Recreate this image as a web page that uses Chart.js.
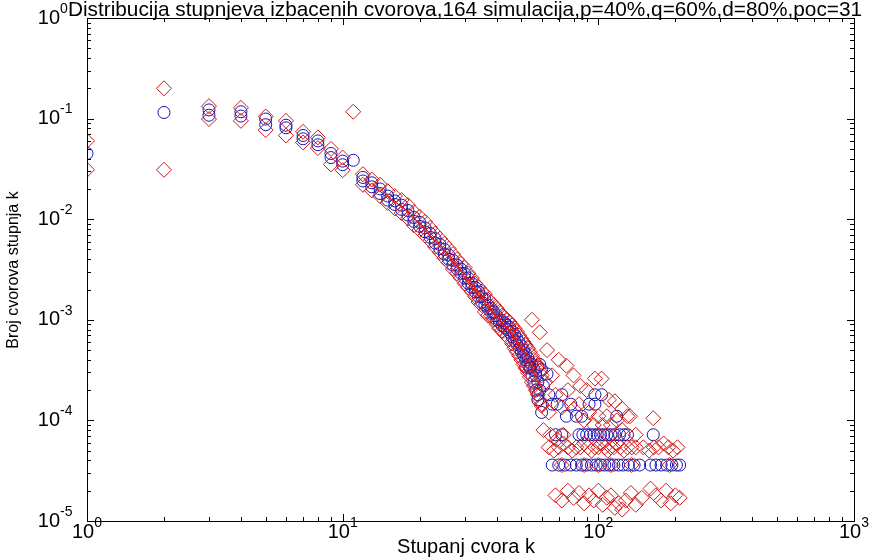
<!DOCTYPE html>
<html>
<head>
<meta charset="utf-8">
<script src="https://cdn.jsdelivr.net/npm/chart.js@4.4.1/dist/chart.umd.min.js"></script>
<style>
html, body { margin: 0; padding: 0; background: #fff; }
</style>
</head>
<body>
<canvas id="c" width="869" height="557"></canvas>
<script>
// podaci ocitani sa slike
const bandK = [1,2,3,4,5,6,7,8,9,10,11,12,13,14,15,16,17,18,19,20,21,22,23,24,25,26,27,28,29,30,
  31,32,33,34,35,36,37,38,39,40,41,42,43,44,45,46,47,48,49,50,51,52,53,54,55,56,57,58,59,60];

const redHi = [.060,.20,.133,.128,.105,.095,.074,.065,.050,.041,.117,.028,.0248,.022,.019,.017,.0155,.0138,.0118,.0106,
  .0094,.0082,.0072,.0064,.0057,.0051,.0045,.0040,.0036,.0033,.0029,.0026,.0023,.0021,.0019,.0018,.0016,.0015,.0014,.0013,
  .0012,.0011,.00105,.0010,.00095,.00088,.00082,.00076,.00070,.00065,.00060,.00056,.00052,.00048,.00044,.00040,.00037,.00034,.00031,.00028];
const redLo = [.031,.031,.099,.095,.077,.068,.058,.051,.035,.0307,null,.022,.0193,.017,.0145,.0128,.0115,.0102,.0087,.0078,
  .0069,.0061,.0053,.0047,.0041,.0037,.0032,.0029,.0026,.0023,.0021,.0019,.0017,.0015,.0014,.0012,.0011,.0011,.0010,.0009,
  .00082,.00078,.00072,.00068,.00064,.00058,.00052,.00048,.00044,.00040,.00036,.00033,.00030,.00027,.00024,.00022,.00020,.00018,.00016,.00014];
const blueHi = [.045,.115,.122,.117,.099,.086,.068,.060,.045,.0378,.0385,.026,.023,.020,.017,.0152,.0138,.0122,.0104,.0093,
  .0082,.0072,.0064,.0056,.0050,.0044,.0039,.0035,.0032,.0029,.0026,.0023,.0021,.0019,.0017,.0016,.0014,.0013,.0012,.0011,
  .0010,.00098,.00093,.00088,.00084,.00077,.00071,.00065,.00060,.00055,.00050,.00046,.00042,.00038,.00036,.00032,.00028,.00024,.00036,.00032];
const blueLo = [null,null,.108,.106,.087,.081,.063,.055,.041,.0348,null,.024,.021,.018,.0155,.014,.0125,.011,.0095,.0085,
  .0075,.0066,.0058,.0051,.0045,.0040,.0035,.0032,.0029,.0026,.0023,.0021,.0019,.0017,.0015,.0014,.0013,.0012,.0011,.0010,
  .00095,.00088,.00084,.00080,.00075,.00068,.00062,.00057,.00052,.00048,.00044,.00040,.00036,.00033,.00028,.00024,.00020,.00016,.00020,.00012];

// rep (k > 50)
const blueTailK = [52,54,58,63, 58,61,64,66,69,72,75,78,82,86,92,97,97,103,118,
  68,72,84,87,90,93,96,99,102,105,108,112,116,121,126,130,164,
  66,70,74,78,82,86,90,94,98,102,106,110,115,120,125,131,138,145,160,168,176,185,194,202,208];
const blueTailY = [3.4e-4,3.4e-4,3.4e-4,2.9e-4, 1.8e-4,2.2e-4,1.8e-4,1.45e-4,1.45e-4,1.8e-4,1.1e-4,1.45e-4,1.1e-4,1.1e-4,1.45e-4,1.8e-4,1.45e-4,1.8e-4,1.1e-4,
  7.2e-5,7.2e-5,7.2e-5,7.2e-5,7.2e-5,7.2e-5,7.2e-5,7.2e-5,7.2e-5,7.2e-5,7.2e-5,7.2e-5,7.2e-5,7.2e-5,7.2e-5,7.2e-5,7.2e-5,
  3.6e-5,3.6e-5,3.6e-5,3.6e-5,3.6e-5,3.6e-5,3.6e-5,3.6e-5,3.6e-5,3.6e-5,3.6e-5,3.6e-5,3.6e-5,3.6e-5,3.6e-5,3.6e-5,3.6e-5,3.6e-5,3.6e-5,3.6e-5,3.6e-5,3.6e-5,3.6e-5,3.6e-5,3.6e-5];

const redTailK = [55,59,63,70,75,66,62,80,85,90,97,103,110,116,124,130,164,60,64,68,72,76,80,84,88,92,96,
  100,104,108,112,118,124,133,140,61,65,69,73,
  64,67,70,73,76,79,82,85,88,91,94,97,100,103,106,109,112,115,118,122,126,130,135,140,150,158,165,172,180,188,196,204,
  72,88,100,112,135,190,
  68,72,76,80,84,88,92,96,100,104,108,112,116,120,124,128,134,140,148,160,168,176,184,192,200,208];
const redTailY = [1.0e-3,7.5e-4,5e-4,4e-4,3.5e-4,2.8e-4,2.4e-4,2.8e-4,2.2e-4,2.0e-4,2.6e-4,2.6e-4,1.6e-4,1.55e-4,1.3e-4,1.1e-4,1.05e-4,
  1.45e-4,1.2e-4,1.8e-4,1.35e-4,2.0e-4,1.3e-4,1.45e-4,1.0e-4,1.2e-4,9e-5,
  1.1e-4,9e-5,1.1e-4,9e-5,1.0e-4,8e-5,1.1e-4,7.2e-5,8e-5,7.2e-5,6.5e-5,7.2e-5,
  5.4e-5,5e-5,5.4e-5,5.9e-5,5.4e-5,5e-5,5.4e-5,5.4e-5,5.9e-5,5.4e-5,5e-5,5.4e-5,5.4e-5,5.9e-5,5.4e-5,5e-5,5.4e-5,5.4e-5,5.9e-5,5.4e-5,5e-5,5.4e-5,5.4e-5,5.4e-5,5.4e-5,5e-5,5.4e-5,5.4e-5,5.9e-5,5.4e-5,5e-5,5.4e-5,
  3.6e-5,3.6e-5,3.6e-5,3.6e-5,3.6e-5,3.6e-5,
  1.8e-5,1.6e-5,2.0e-5,1.7e-5,1.9e-5,1.5e-5,1.8e-5,1.6e-5,2.0e-5,1.45e-5,1.7e-5,1.8e-5,1.35e-5,1.5e-5,1.3e-5,1.6e-5,1.9e-5,1.45e-5,1.7e-5,2.1e-5,1.8e-5,1.6e-5,2.0e-5,1.5e-5,1.8e-5,1.7e-5];

const xExps = [0, 1, 2, 3];
const yExps = [0, -1, -2, -3, -4, -5];

const titleText = 'Distribucija stupnjeva izbacenih cvorova,164 simulacija,p=40%,q=60%,d=80%,poc=31';
const xTitle = 'Stupanj cvora k';
const yTitle = 'Broj cvorova stupnja k';

const FONT = '"Liberation Sans", Arial, sans-serif';

function pts(ks, ys) {
  return ks.map((k, i) => ({ x: k, y: ys[i] })).filter(p => p.y != null);
}

const redPoints = [...pts(bandK, redHi), ...pts(bandK, redLo), ...pts(redTailK, redTailY)];
const bluePoints = [...pts(bandK, blueHi), ...pts(bandK, blueLo), ...pts(blueTailK, blueTailY)];

// 10 s eksponentom
function drawPow(ctx, exp, x, y, align) {
  const base = '10', sup = String(exp);
  ctx.font = '20px ' + FONT;
  const wb = ctx.measureText(base).width;
  ctx.font = '14px ' + FONT;
  const ws = ctx.measureText(sup).width;
  const x0 = align === 'right' ? x - wb : x - (wb + ws) / 2;
  ctx.textAlign = 'left';
  ctx.textBaseline = 'middle';
  ctx.font = '20px ' + FONT;
  ctx.fillText(base, x0, y);
  ctx.font = '14px ' + FONT;
  ctx.fillText(sup, x0 + wb, y - 9);
}

const axesBox = {
  id: 'axesBox',
  afterDraw(chart) {
    const { ctx, chartArea: a, scales: { x, y } } = chart;
    ctx.save();
    ctx.strokeStyle = '#000';
    ctx.fillStyle = '#000';
    ctx.lineWidth = 1;
    ctx.strokeRect(a.left + 0.5, a.top + 0.5, a.right - a.left, a.bottom - a.top);

    ctx.beginPath();
    xExps.forEach((e, i) => {
      for (let m = 1; m <= 9; m++) {
        if (m > 1 && i === xExps.length - 1) break;
        const px = Math.round(x.getPixelForValue(m * Math.pow(10, e))) + 0.5;
        const len = m === 1 ? 7 : 4;
        ctx.moveTo(px, a.bottom); ctx.lineTo(px, a.bottom - len);
        ctx.moveTo(px, a.top); ctx.lineTo(px, a.top + len);
      }
    });
    yExps.forEach((e, i) => {
      for (let m = 1; m <= 9; m++) {
        if (m > 1 && i === 0) break;
        const py = Math.round(y.getPixelForValue(m * Math.pow(10, e))) + 0.5;
        const len = m === 1 ? 7 : 4;
        ctx.moveTo(a.left, py); ctx.lineTo(a.left + len, py);
        ctx.moveTo(a.right, py); ctx.lineTo(a.right - len, py);
      }
    });
    ctx.stroke();

    xExps.forEach(e => drawPow(ctx, e, x.getPixelForValue(Math.pow(10, e)), a.bottom + 11, 'center'));
    yExps.forEach(e => drawPow(ctx, e, a.left - 27, y.getPixelForValue(Math.pow(10, e)), 'right'));

    // naslov
    ctx.font = '20.8px ' + FONT;
    ctx.textAlign = 'center';
    ctx.textBaseline = 'alphabetic';
    ctx.fillText(titleText, 465, 16);

    ctx.font = '20px ' + FONT;
    ctx.textBaseline = 'middle';
    ctx.fillText(xTitle, 466, 547);
    ctx.font = '16px ' + FONT;
    ctx.translate(14, 270);
    ctx.rotate(-Math.PI / 2);
    ctx.fillText(yTitle, 0, 0);
    ctx.restore();
  }
};

new Chart(document.getElementById('c'), {
  type: 'scatter',
  data: {
    datasets: [
      {
        label: 'r',
        data: redPoints,
        pointStyle: 'rectRot',
        pointRadius: 7.5,
        borderColor: '#d01818',
        backgroundColor: 'rgba(0,0,0,0)',
        borderWidth: 1,
        order: 1
      },
      {
        label: 'b',
        data: bluePoints,
        pointStyle: 'circle',
        pointRadius: 6,
        borderColor: '#1414b4',
        backgroundColor: 'rgba(0,0,0,0)',
        borderWidth: 1,
        order: 2
      }
    ]
  },
  options: {
    responsive: false,
    animation: false,
    layout: { padding: { left: 87, right: 15, top: 18, bottom: 36 } },
    scales: {
      x: { type: 'logarithmic', min: 1, max: 1000, display: false },
      y: { type: 'logarithmic', min: 1e-5, max: 1, display: false }
    },
    plugins: {
      legend: { display: false },
      tooltip: { enabled: false },
      title: { display: false }
    }
  },
  plugins: [axesBox]
});
</script>
</body>
</html>
